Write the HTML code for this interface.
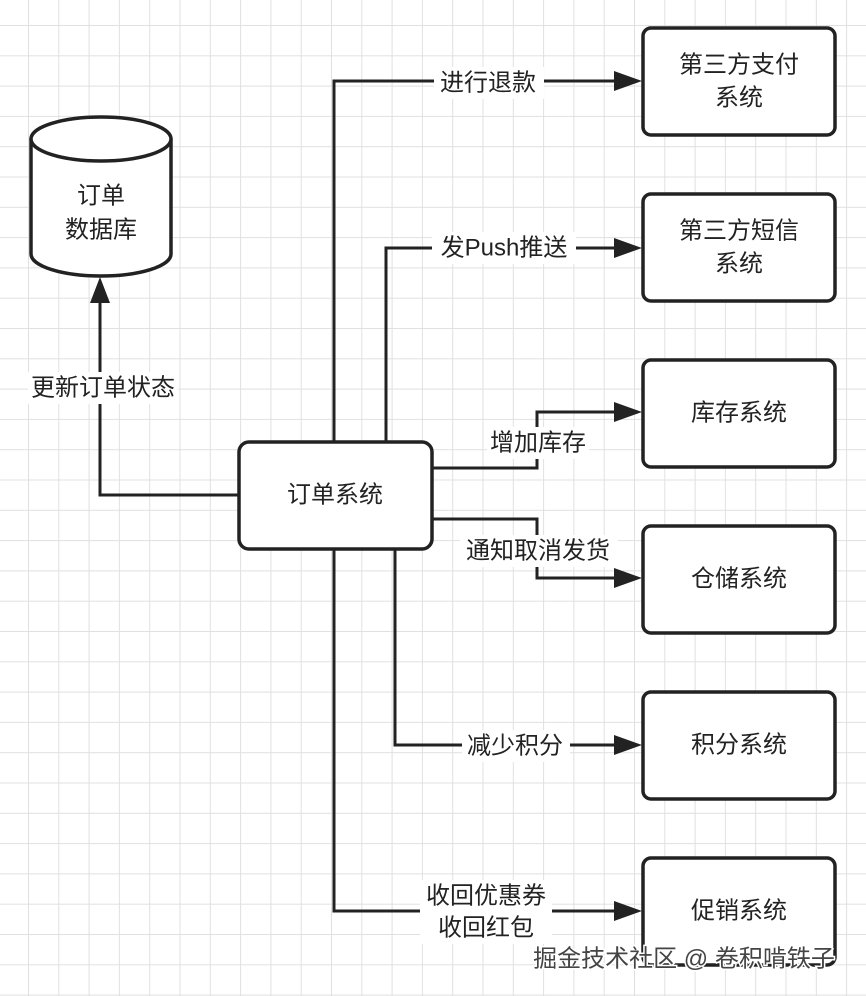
<!DOCTYPE html>
<html><head><meta charset="utf-8"><style>
html,body{margin:0;padding:0;background:#fff}
svg{display:block}
text{font-family:"Liberation Sans","Noto Sans CJK SC",sans-serif;font-size:24px;fill:#222;text-anchor:middle;dominant-baseline:central}
</style></head><body>
<svg width="866" height="996" viewBox="0 0 866 996" xmlns="http://www.w3.org/2000/svg">
<defs>
<pattern id="g" x="28" y="25" width="30.3" height="30.3" patternUnits="userSpaceOnUse">
<path d="M0 0V30.3M0 0H30.3" stroke="#e0e0e0" stroke-width="2" fill="none"/>
</pattern>
</defs>
<rect width="866" height="996" fill="url(#g)"/>
<g stroke="#222" stroke-width="3" fill="none">
<path d="M238 495H100V300"/>
<path d="M334 441V81H616"/>
<path d="M386 441V248H616"/>
<path d="M432 468H537V412H616"/>
<path d="M432 519H537V578H616"/>
<path d="M395 549V745H616"/>
<path d="M334 549V911H616"/>
</g>
<g fill="#222">
<polygon points="100,277 90,303 110,303"/>
<polygon points="642,81 614,71 614,91"/>
<polygon points="642,248 614,238 614,258"/>
<polygon points="642,412 614,402 614,422"/>
<polygon points="642,578 614,568 614,588"/>
<polygon points="642,745 614,735 614,755"/>
<polygon points="642,911 614,901 614,921"/>
</g>
<g fill="#fff">
<rect x="28" y="372" width="150" height="32"/>
<rect x="434" y="67" width="110" height="32"/>
<rect x="432" y="232" width="144" height="32"/>
<rect x="487" y="427" width="102" height="32"/>
<rect x="460" y="535" width="158" height="32"/>
<rect x="462" y="730" width="108" height="32"/>
<rect x="420" y="880" width="132" height="64"/>
</g>
<text x="103" y="388">更新订单状态</text>
<text x="488" y="83">进行退款</text>
<text x="504" y="248">发Push推送</text>
<text x="538" y="443">增加库存</text>
<text x="538" y="551">通知取消发货</text>
<text x="515" y="746">减少积分</text>
<text x="486" y="896">收回优惠券</text>
<text x="486" y="928">收回红包</text>
<path d="M31 139V254A70 22 0 0 0 171 254V139" fill="#fff" stroke="#222" stroke-width="3.5"/>
<ellipse cx="101" cy="139" rx="70" ry="22" fill="#fff" stroke="#222" stroke-width="3.5"/>
<text x="101" y="196">订单</text>
<text x="101" y="230">数据库</text>
<g fill="#fff" stroke="#222" stroke-width="3.5">
<rect x="239" y="442" width="193" height="107" rx="10"/>
<rect x="643" y="28" width="192" height="107" rx="8"/>
<rect x="643" y="194" width="192" height="107" rx="8"/>
<rect x="643" y="360" width="192" height="107" rx="8"/>
<rect x="643" y="526" width="192" height="107" rx="8"/>
<rect x="643" y="692" width="192" height="107" rx="8"/>
<rect x="643" y="858" width="192" height="107" rx="8"/>
</g>
<text x="335" y="495">订单系统</text>
<text x="739" y="65">第三方支付</text>
<text x="739" y="98">系统</text>
<text x="739" y="231">第三方短信</text>
<text x="739" y="264">系统</text>
<text x="739" y="413">库存系统</text>
<text x="739" y="579">仓储系统</text>
<text x="739" y="745">积分系统</text>
<text x="739" y="911">促销系统</text>
<text x="684" y="959" style="fill:#444;font-size:24px;stroke:#fff;stroke-width:3;paint-order:stroke">掘金技术社区 @ 卷积啃铁子</text>
</svg>
</body></html>
